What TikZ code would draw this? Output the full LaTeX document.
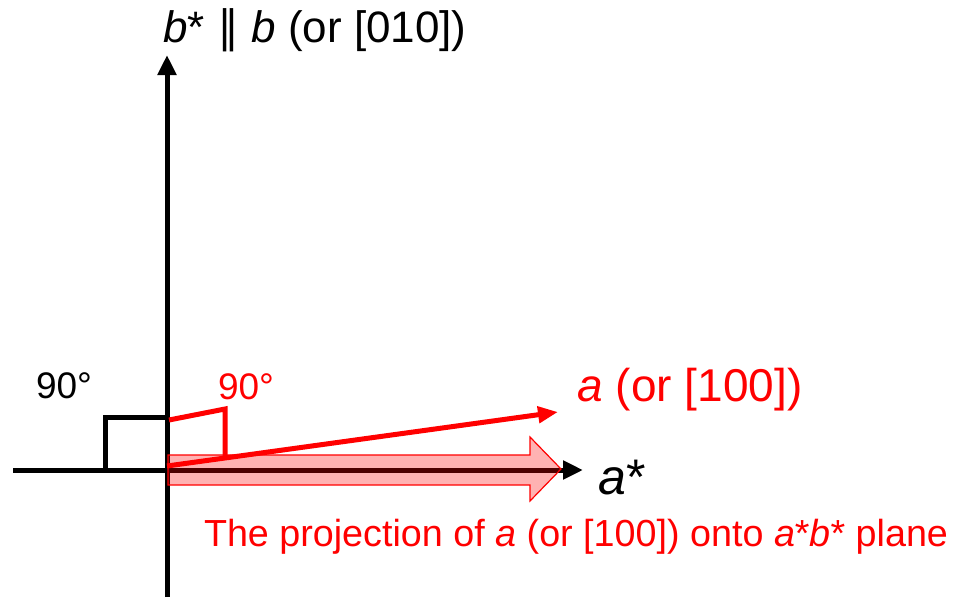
\documentclass[tikz,border=0pt]{standalone}
\usepackage{fontspec}
\setmainfont{Liberation Sans}
\newfontfamily\djv{DejaVu Sans}
\usetikzlibrary{arrows.meta}
\begin{document}
\begin{tikzpicture}[x=1pt,y=-1pt,
  axis/.style={line width=5pt,-{Triangle[length=20pt,width=18pt]}},
  blk/.style={line width=5pt},
  redl/.style={line width=5pt,red},
  lbl/.style={inner sep=0pt,font=\fontsize{37}{40}\selectfont}]
\useasboundingbox (0,0) rectangle (953,597);
\coordinate (O) at (167,470);
\coordinate (ybot) at (167,597);
\coordinate (ytop) at (167,55);
\coordinate (xl) at (13,470);
\coordinate (xr) at (583,470);
% axes
\draw[blk] (xl) -- (O);
\draw[axis] (O) -- (xr);
\draw[axis] (ybot) -- (ytop);
% black right angle
\coordinate (s1) at (105,470);
\coordinate (s2) at (105,417);
\coordinate (s3) at (167,417);
\draw[blk] (s1) -- (s2) -- (s3);
% red right angle
\coordinate (r1) at (169,420);
\coordinate (r2) at (225,409);
\coordinate (r3) at (225,456);
\draw[redl,line join=miter] (r1) -- (r2) -- (r3);
% vector a
\coordinate (a0) at (167,466);
\coordinate (a1) at (558,412);
\draw[redl,-{Triangle[length=20pt,width=16pt]}] (a0) -- (a1);
% projection arrow
\filldraw[draw=red,line width=1.2pt,fill=red,fill opacity=0.3]
  (168,455) -- (530,455) -- (530,437) -- (561,469) -- (530,501) -- (530,485) -- (168,485) -- cycle;
% labels
\node[lbl] (t90k) at (64,386) {90°};
\node[lbl,text=red] (t90r) at (246,387) {90°};
\node[lbl,font=\fontsize{44}{48}\selectfont] (tb) at (315,30) {\textit{b}* {\djv ∥} \textit{b} (or [010])};
\node[lbl,text=red,font=\fontsize{46}{50}\selectfont] (ta) at (690,390) {\textit{a} (or [100])};
\node[lbl,font=\fontsize{50}{54}\selectfont] (tas) at (622,478) {\textit{a}*};
\node[lbl,text=red,font=\fontsize{37.7}{40}\selectfont] (tp) at (576,537) {The projection of \textit{a} (or [100]) onto \textit{a}*\textit{b}* plane};
\end{tikzpicture}
\end{document}
